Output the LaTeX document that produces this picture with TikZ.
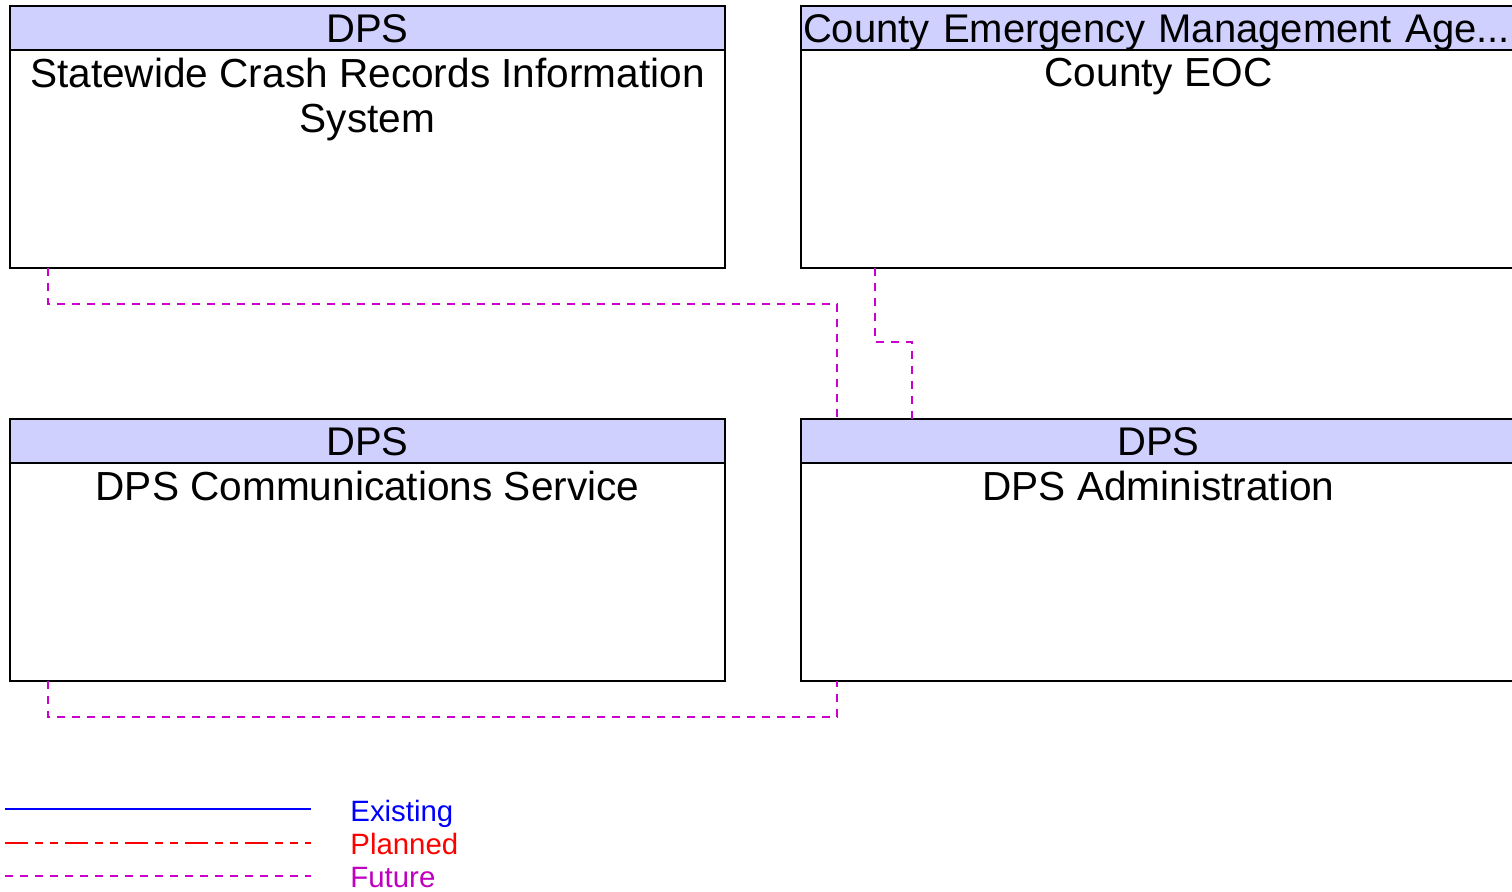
\documentclass[tikz,border=0pt]{standalone}
\usepackage{fontspec}
\setmainfont{Liberation Sans}
\usepackage{xcolor}
\usepackage{tikz}
\usetikzlibrary{positioning}
\definecolor{hdrblue}{RGB}{208,208,255}
\definecolor{futurecol}{RGB}{204,0,204}
\definecolor{futuretext}{RGB}{192,0,192}
\tikzstyle{header} = [rectangle, draw=black, line width=0.7pt, fill=hdrblue, minimum width=357.5pt, minimum height=22pt, inner sep=1pt, outer sep=0pt, text width=355.5pt, align=center, text height=14.3pt, text depth=0pt, font=\fontsize{20}{22.5}\selectfont]
\tikzstyle{body} = [rectangle, draw=black, line width=0.7pt, minimum width=357.5pt, minimum height=109pt, inner sep=0pt, outer sep=0pt]
\tikzstyle{elemtext} = [inner sep=0pt, align=center, font=\fontsize{20.3}{22.5}\selectfont]
\tikzstyle{legend} = [anchor=base west, inner sep=0pt, font=\fontsize{14.7}{17}\selectfont]
\tikzstyle{existing} = [draw=blue, line width=1pt]
\tikzstyle{planned} = [draw=red, line width=0.6pt, dash pattern=on 11.5pt off 3.5pt on 4pt off 3.5pt on 4pt off 3.5pt]
\tikzstyle{future} = [draw=futurecol, line width=0.6pt, dash pattern=on 4pt off 3.5pt]

\begin{document}
\begin{tikzpicture}[x=0.5pt, y=-0.5pt]
\useasboundingbox (0,0) rectangle (1512,892);
\node (crsHdr) [header, anchor=north west] at (10,6) {DPS};
\node (crs) [body, below=0pt of crsHdr] {};
\node (crsText) [elemtext, below=4pt of crs.north] {Statewide Crash Records Information\\System};
\node (eocHdr) [header, align=left, right=38pt of crsHdr] {County Emergency Management Age...};
\node (eoc) [body, below=0pt of eocHdr] {};
\node (eocText) [elemtext, below=4pt of eoc.north] {County EOC};
\node (dcsHdr) [header, below=75.5pt of crs] {DPS};
\node (dcs) [body, below=0pt of dcsHdr] {};
\node (dcsText) [elemtext, below=4pt of dcs.north] {DPS Communications Service};
\node (admHdr) [header, right=38pt of dcsHdr] {DPS};
\node (adm) [body, below=0pt of admHdr] {};
\node (admText) [elemtext, below=4pt of adm.north] {DPS Administration};
\draw [future] ([xshift=19pt]crs.south west) -- ++(0,36) -| ([xshift=18pt]admHdr.north west);
\draw [future] ([xshift=37pt]eoc.south west) -- ++(0,74) -| ([xshift=55.5pt]admHdr.north west);
\draw [future] ([xshift=19pt]dcs.south west) -- ++(0,36) -| ([xshift=18pt]adm.south west);
% legend
\coordinate (exA) at (5,809);
\coordinate (exB) at (311,809);
\coordinate (plA) at (5,843);
\coordinate (plB) at (311,843);
\coordinate (fuA) at (5,876);
\coordinate (fuB) at (311,876);
\draw [existing] (exA) -- (exB);
\draw [planned] (plA) -- (plB);
\draw [future] (fuA) -- (fuB);
\node (exText) [legend, text=blue] at (350,822) {Existing};
\node (plText) [legend, text=red] at (350,855) {Planned};
\node (fuText) [legend, text=futuretext] at (350,888) {Future};
\end{tikzpicture}
\end{document}
